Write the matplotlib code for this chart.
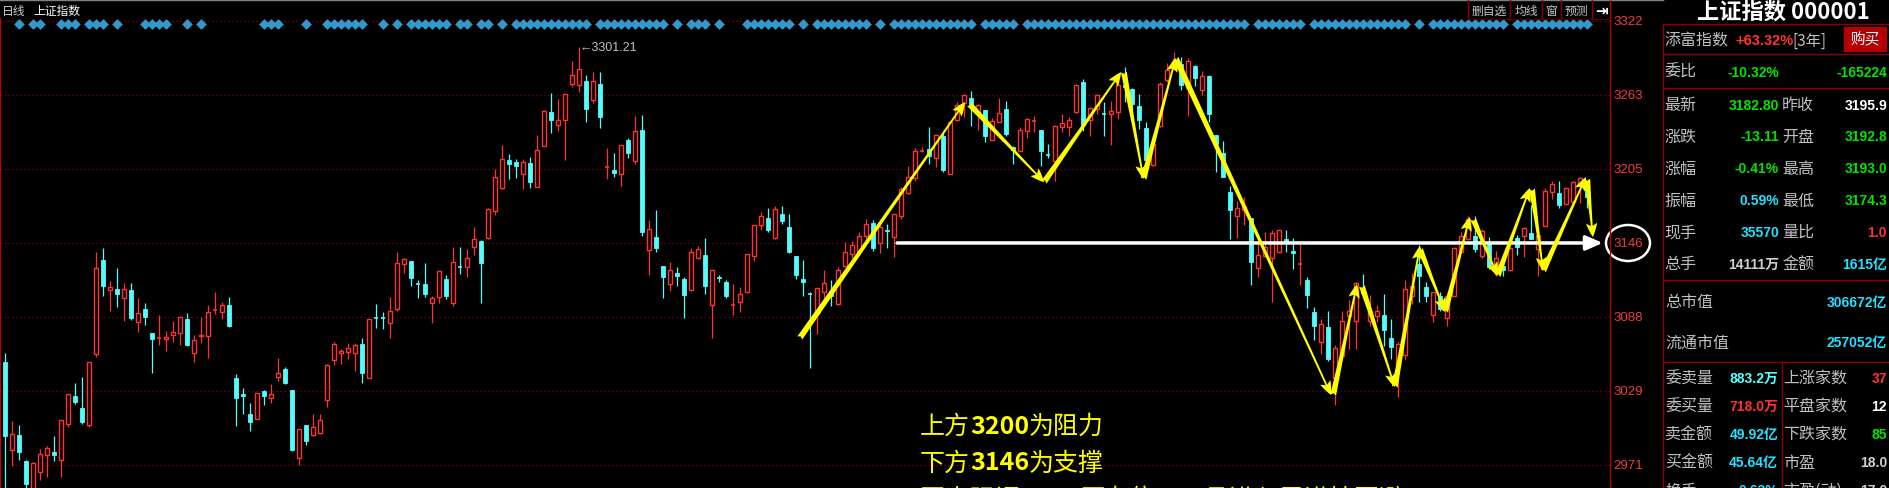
import matplotlib
matplotlib.use('Agg')
import matplotlib.pyplot as plt
from matplotlib.patches import Rectangle, Ellipse, FancyArrowPatch
from matplotlib.lines import Line2D
import numpy as np

plt.rcParams['font.family'] = ['Noto Sans CJK SC', 'DejaVu Sans']

# ---------------- data ----------------
opens = [3052, 2982.6, 2994.2, 2973.6, 2948, 2965.2, 2978.6, 2980.7, 2974.7, 3003.1,
         3025, 3015.5, 3002.4, 3058.2, 3132.5, 3109.1, 3109.6, 3102.7, 3108.8, 3083.8,
         3093.8, 3074.8, 3071.2, 3070.3, 3073.5, 3074.8, 3085.9, 3059.3, 3072.7, 3072.7,
         3093.2, 3091.7, 3097, 3039.2, 3026.6, 3010.8, 3007.4, 3028.9, 3023.7, 3040.3,
         3046.3, 3029.7, 2976.5, 3002.1, 2994.4, 2996, 3022.1, 3053.7, 3059.3, 3059.8,
         3059.3, 3066.1, 3039.5, 3087.4, 3086.9, 3083.2, 3094, 3129.6, 3131.7, 3114.3,
         3113.5, 3098.8, 3103.5, 3117.5, 3098.8, 3127.5, 3127.5, 3143.3, 3147.5, 3150.2,
         3171.5, 3189.7, 3211.6, 3210, 3200.7, 3209.2, 3190.5, 3222.9, 3249.5, 3239.5,
         3243.4, 3271.9, 3271.1, 3274, 3259.3, 3271.6, 3205.8, 3203.7, 3201, 3227.4,
         3211.3, 3235.6, 3141, 3150.7, 3128, 3113.8, 3122.5, 3117.8, 3109.3, 3134.6,
         3136.7, 3097.5, 3119.6, 3115.1, 3097.2, 3099.9, 3107.7, 3136.2, 3160.5, 3165.7,
         3150.2, 3169.1, 3158.6, 3135.9, 3117.8, 3106.4, 3090.1, 3107.2, 3106.4, 3098,
         3127.8, 3137.3, 3140.2, 3151.5, 3162, 3146.2, 3156.5, 3150.7, 3167.8, 3185.7,
         3197.6, 3218.7, 3220.5, 3213.2, 3230.5, 3201, 3243.7, 3256.9, 3260.9, 3249.5,
         3251.6, 3227.9, 3242.1, 3252.2, 3222, 3219.2, 3235, 3242.1, 3235.6, 3216,
         3211.3, 3237.7, 3237.7, 3249.5, 3273.8, 3243.7, 3252.2, 3248, 3247.9, 3249.5,
         3271.1, 3268, 3254.3, 3237.4, 3208.2, 3238.5, 3275.1, 3284, 3287.7, 3268.5,
         3285.9, 3267.4, 3278, 3231.6, 3217.4, 3186.3, 3167.8, 3172.6, 3165.7, 3126.2,
         3135.7, 3134.1, 3138.9, 3149.4, 3139.9, 3129.4, 3117, 3091.4, 3067.7, 3079.6,
         3039.3, 3056.7, 3088.3, 3084.8, 3109.9, 3084.8, 3088.8, 3089.3, 3071.1, 3050.1,
         3058, 3104.1, 3130, 3111.2, 3089.3, 3104.6, 3086.7, 3104.1, 3138.9, 3149.4,
         3151.5, 3136.2, 3147.3, 3128.3, 3128.3, 3125.2, 3149.9, 3151.5, 3153.9, 3141.5,
         3159.4, 3186.3, 3185.7, 3177.1, 3178.9, 3192.9, 3192.8]

highs = [3059, 3005.2, 3002.1, 2974.4, 2973, 2983.1, 2985.7, 2993.4, 3006, 3027.1,
         3035.3, 3040, 3052.4, 3138.8, 3142, 3115.9, 3126.7, 3114.9, 3114.3, 3102.5,
         3098.5, 3074.8, 3089, 3076.4, 3084.3, 3088.5, 3090.6, 3073.8, 3087.7, 3096.9,
         3107.2, 3099.6, 3103.3, 3042.4, 3031.3, 3019.5, 3027.9, 3029.7, 3034.5, 3055.6,
         3048.5, 3029.7, 2999.4, 3002.1, 3010.8, 3010.8, 3050.3, 3067.7, 3062.4, 3066.9,
         3066.9, 3070.9, 3085.9, 3097.7, 3091.7, 3103.3, 3138.8, 3134.4, 3131.7, 3117,
         3130.1, 3104, 3124.4, 3120.6, 3142.8, 3142.8, 3141.2, 3158.6, 3148.3, 3173.6,
         3204.4, 3223.4, 3216.3, 3212.6, 3212.6, 3213.9, 3231.3, 3251.1, 3264.5, 3259.8,
         3263.7, 3290.1, 3301.21, 3278.8, 3281.1, 3281.1, 3221, 3217.1, 3223.9, 3229.5,
         3246.3, 3247.4, 3164.4, 3172.3, 3128.3, 3131.5, 3127, 3119.6, 3142, 3143.6,
         3149.9, 3124.9, 3120.9, 3117, 3113.8, 3111.2, 3137.5, 3160.5, 3170.5, 3173.6,
         3175.7, 3175.7, 3169.1, 3135.9, 3133, 3107.2, 3110.4, 3125.2, 3117.2, 3127,
         3147.3, 3148.1, 3154.7, 3165, 3164.1, 3163.9, 3161.2, 3168.9, 3190.2, 3207.4,
         3221.1, 3221.8, 3238.2, 3232.4, 3233.7, 3242.9, 3257.4, 3264, 3266.6, 3256.1,
         3251.6, 3245.3, 3261.1, 3258.5, 3223, 3237.7, 3245.3, 3246.9, 3235.6, 3224.5,
         3239.5, 3248.2, 3246.1, 3271.9, 3275.9, 3253.5, 3264, 3257.4, 3258.7, 3278.5,
         3285.1, 3268.5, 3264, 3241.6, 3225.8, 3273.2, 3288.5, 3297, 3293, 3292.2,
         3287, 3282.5, 3279, 3231.6, 3227.1, 3191.6, 3179.7, 3182.3, 3165.7, 3146.2,
         3154.7, 3156.5, 3156.2, 3156.5, 3149.9, 3145.4, 3119.1, 3095.9, 3086.2, 3092.2,
         3065.6, 3092.7, 3101.2, 3115.1, 3121.7, 3105.1, 3097.2, 3105.9, 3086.2, 3067.7,
         3117.3, 3122.5, 3144.6, 3115.1, 3107.2, 3107.8, 3104.6, 3142.8, 3154.7, 3167.8,
         3167.3, 3157.3, 3150.7, 3140.2, 3131.5, 3142, 3152.5, 3158.6, 3176, 3159.9,
         3189.4, 3195, 3195.5, 3190.2, 3195, 3198.1, 3193.0]

lows = [2945, 2969.9, 2974.7, 2948, 2945, 2958.9, 2961.5, 2973.9, 2961.2, 3000.7,
        3019, 3003.1, 3000.7, 3056.1, 3104, 3092.2, 3095.4, 3084.6, 3085.1, 3075.6,
        3081.4, 3043.4, 3065.3, 3060.6, 3067.9, 3065.3, 3064.5, 3052.1, 3066.9, 3055.3,
        3090.4, 3085.9, 3079.8, 3001.5, 3011, 2997.6, 3007.4, 3018.2, 3020, 3037.1,
        3034.5, 2981.8, 2971, 2986.3, 2993.4, 2995, 3016.3, 3049.5, 3050.3, 3054.2,
        3045, 3035.5, 3039.5, 3079, 3078.2, 3070.9, 3092.5, 3122.8, 3112.2, 3102.5,
        3103.5, 3083, 3098.5, 3101.9, 3096.4, 3121.4, 3119.6, 3137, 3098.8, 3149.6,
        3168.3, 3189.2, 3196.5, 3197.3, 3188.6, 3189.7, 3190.5, 3222.9, 3233.2, 3234.8,
        3211.6, 3269.5, 3265.6, 3241.9, 3257.1, 3236.9, 3197, 3198.4, 3191.3, 3213.4,
        3208.7, 3152, 3121.2, 3138.9, 3103, 3108.5, 3112.5, 3087.2, 3108.5, 3133.6,
        3105.9, 3070.9, 3115.1, 3102.5, 3089.6, 3091.4, 3107.7, 3132.3, 3156.8, 3154.7,
        3149.4, 3161.2, 3138.3, 3117.8, 3104.6, 3047.2, 3074.5, 3098, 3096.2, 3097.2,
        3127, 3134.4, 3137.5, 3149.4, 3140.2, 3138.1, 3142.5, 3134.9, 3165.2, 3185,
        3195.5, 3217.9, 3208.7, 3206, 3202.1, 3201, 3242.9, 3245.6, 3239, 3235.8,
        3226.3, 3227.9, 3241.6, 3231.1, 3208.7, 3219.2, 3229, 3233.7, 3207.4, 3213.2,
        3195.5, 3233.7, 3230.5, 3249, 3235, 3230.5, 3248.2, 3231.1, 3223.7, 3244.2,
        3257.4, 3244.2, 3236.4, 3198.1, 3207.4, 3237.7, 3273.2, 3283, 3267.4, 3246.9,
        3270, 3263.2, 3241.6, 3202.1, 3198.7, 3149.4, 3150.2, 3160.5, 3113, 3119.1,
        3134.9, 3099.9, 3138.9, 3138.9, 3125.7, 3113, 3094.6, 3069.8, 3058.5, 3053.2,
        3018.2, 3055.9, 3062.4, 3062.4, 3105.9, 3080.4, 3083.5, 3065.1, 3054.5, 3024.2,
        3054.5, 3098, 3099.9, 3099.9, 3084, 3092.7, 3080.9, 3104.1, 3138.9, 3149.4,
        3138.9, 3134.1, 3125.7, 3120.4, 3120.4, 3124.4, 3136.7, 3134.9, 3149.4, 3120.4,
        3159.4, 3181, 3173.6, 3176.3, 3178.4, 3177.8, 3174.3]

closes = [2994, 2995.5, 2981, 2955.4, 2972.6, 2979.7, 2983.9, 2978.4, 3006, 3027.1,
          3020.5, 3004.7, 3052.4, 3126.7, 3112, 3111.2, 3105.6, 3109.6, 3086.7, 3091.1,
          3087.7, 3070.3, 3071.7, 3071.6, 3076.1, 3087.7, 3065.3, 3069.3, 3073.8, 3091.9,
          3093.8, 3097.5, 3080.3, 3023.7, 3025.3, 3004.7, 3027.4, 3025.3, 3027.1, 3043.7,
          3035.3, 2982.3, 2999.4, 2989.7, 3000.5, 3006, 3049.5, 3066.7, 3060.6, 3063.2,
          3065.6, 3043.2, 3085.9, 3086.9, 3086.4, 3092.7, 3130.1, 3133.3, 3118.3, 3113.5,
          3105.6, 3102.5, 3123.8, 3104, 3130.9, 3127.2, 3134.6, 3149.6, 3130.4, 3172.8,
          3198.1, 3212.4, 3208.4, 3206.8, 3210, 3194.2, 3219.5, 3250.3, 3243.4, 3243.2,
          3263.7, 3278.8, 3284, 3251.9, 3274.5, 3245.8, 3206.4, 3201.3, 3223.9, 3217.1,
          3234.5, 3155.2, 3157.3, 3142.3, 3119.6, 3124.9, 3120.4, 3105.1, 3138.9, 3141.5,
          3112.5, 3124.9, 3118.6, 3104.6, 3098, 3105.7, 3137.5, 3160.5, 3167.3, 3156.5,
          3173.1, 3163.9, 3139.4, 3121.2, 3115.1, 3106.0, 3110.4, 3114.3, 3104.1, 3125.2,
          3138.9, 3144.9, 3151.5, 3161.2, 3142.5, 3158.6, 3155.5, 3168.9, 3188.9, 3198.7,
          3218.9, 3219.5, 3214.7, 3231.6, 3204, 3242.1, 3255.3, 3263.2, 3254, 3255.3,
          3231.1, 3242.9, 3248.7, 3232.4, 3220, 3235.6, 3244.2, 3242.9, 3219.2, 3215.6,
          3238.5, 3240.8, 3243.4, 3271.1, 3239.5, 3252.7, 3263.2, 3247.9, 3250.6, 3271.1,
          3269.3, 3256.1, 3243.7, 3212.1, 3224.5, 3271.9, 3283, 3290, 3271.4, 3290.4,
          3276.4, 3278, 3248.5, 3224.8, 3198.7, 3172.6, 3173.6, 3175.2, 3131.5, 3136.7,
          3142.8, 3153.9, 3156.2, 3146.2, 3138.1, 3129.6, 3105.4, 3080.9, 3082.2, 3054.5,
          3063, 3084.8, 3092.2, 3114.4, 3106.7, 3092.7, 3092.2, 3077.7, 3064.3, 3066.4,
          3109.9, 3112, 3119.9, 3104.6, 3107.2, 3094, 3104.6, 3142.5, 3152.1, 3165.2,
          3141.5, 3155.5, 3127, 3134.1, 3125.2, 3142, 3142.8, 3157.8, 3149.4, 3152.5,
          3187.1, 3192.9, 3176.3, 3189.4, 3194.2, 3197.3, 3182.8]

# day numbers (1-based) carrying a blue diamond marker, as runs (first, last)
marker_runs = [(3, 3), (5, 6), (9, 11), (13, 15), (17, 17), (21, 24), (27, 27), (29, 29),
               (38, 40), (44, 44), (47, 52), (55, 55), (57, 57), (59, 64), (66, 67),
               (69, 70), (72, 72), (74, 84), (86, 95), (97, 97), (99, 101), (103, 103),
               (107, 113), (115, 115), (117, 124), (126, 126), (128, 139), (141, 145),
               (147, 178), (180, 186), (188, 201), (203, 203), (205, 215), (217, 227)]

# price scale
tick_values = [3322, 3263.5, 3205, 3146.5, 3088, 3029.5, 2971]
tick_labels = ['3322', '3263', '3205', '3146', '3088', '3029', '2971']
support_level = 3146.3
support_start = 127.4

# hand-drawn yellow arrows: (x index, price) from -> to
arrow_x0 = [113.5, 137.7, 148.4, 159.8, 162.6, 167.2, 189.7, 193.8, 198.5, 202.1, 205.7, 209.7, 213.2, 218.1, 219.7, 226.0]
arrow_y0 = [3071.2, 3256.1, 3194.5, 3281.4, 3196.9, 3292.5, 3026.1, 3112.3, 3032.4, 3141.5, 3091.7, 3165.2, 3120.2, 3189.0, 3124.1, 3196.9]
arrow_x1 = [137.1, 148.4, 159.4, 162.6, 167.2, 189.4, 193.1, 198.5, 202.1, 205.7, 209.2, 213.2, 217.8, 219.7, 225.8, 226.8]
arrow_y1 = [3257.7, 3194.3, 3281.4, 3196.9, 3292.5, 3026.1, 3113.8, 3032.4, 3143.9, 3091.7, 3166.8, 3120.2, 3189.8, 3124.1, 3198.4, 3151.0]

n = min(len(opens), len(highs), len(lows), len(closes))

RED = '#ff3232'
CYAN = '#54fcfc'
GRID = '#8b0000'
GRAY = '#c0c0c0'
GREEN = '#00e400'
TCYAN = '#22e0ff'
YEL = '#ffff00'

W, H = 1889, 489
fig = plt.figure(figsize=(W / 100, H / 100), dpi=100, facecolor='black')


def fxy(px, py):
    return px / W, 1 - py / H


def fline(x0, y0, x1, y1, color, lw=1.0, ls='-'):
    a, b = fxy(x0, y0)
    c, d = fxy(x1, y1)
    fig.add_artist(Line2D([a, c], [b, d], color=color, lw=lw, ls=ls, transform=fig.transFigure))


def ftext(px, py, s, color=GRAY, size=11.5, ha='left', weight='normal', family=None):
    kw = {}
    if family is not None:
        kw['family'] = family
    a, b = fxy(px, py)
    return fig.text(a, b, s, color=color, fontsize=size, ha=ha, va='center', fontweight=weight, **kw)


# main chart axes: x from 0 to 1610 px, y from 20 to 489 px
ax = fig.add_axes([0, 0, 1610 / W, (H - 20) / H])
ax.set_facecolor('black')
ax.set_xlim(-5.3 / 7.0, (1610 - 5.3) / 7.0)
ax.set_ylim(3322 - (489 - 21.7) / 1.265, 3322 + 1.7 / 1.265)
ax.set_xticks([])
ax.set_yticks([])
for s in ['top', 'bottom', 'right']:
    ax.spines[s].set_visible(False)
ax.spines['left'].set_color('#c00000')
ax.spines['left'].set_linewidth(1.5)

for t in tick_values:
    ax.axhline(t, color=GRID, lw=0.8, ls=(0, (1.2, 2.4)), zorder=1)

x = np.arange(n)
o = np.array(opens[:n]); h = np.array(highs[:n]); l = np.array(lows[:n]); c = np.array(closes[:n])
up = c >= o
cols = np.where(up, RED, CYAN)
ax.vlines(x, l, h, colors=cols, lw=0.9, zorder=2)
bw = 0.6
for i in range(n):
    bot = min(o[i], c[i])
    ht = abs(c[i] - o[i])
    if ht < 1.0:
        ax.hlines((o[i] + c[i]) / 2, i - bw / 2, i + bw / 2, colors=cols[i], lw=1.2, zorder=3)
    elif up[i]:
        ax.add_patch(Rectangle((i - bw / 2, bot), bw, ht, facecolor='black', edgecolor=RED, lw=1.0, zorder=3))
    else:
        ax.add_patch(Rectangle((i - bw / 2, bot), bw, ht, facecolor=CYAN, edgecolor=CYAN, lw=0.6, zorder=3))

# diamond markers row
mk = []
for a, b in marker_runs:
    mk.extend(range(a - 1, b))
mk = [m for m in mk if m < n]
ax.scatter(mk, [0.9893] * len(mk), marker='D', s=30, color='#3399cc', transform=ax.get_xaxis_transform(),
           zorder=4, linewidths=0, clip_on=False)

# max high label
imax = int(np.argmax(h))
ax.text(imax + 0.1, h[imax], '\u2190' + f'{h[imax]:.2f}', color=GRAY, fontsize=9, va='center', ha='left',
        family=['Liberation Sans', 'DejaVu Sans'], zorder=6)

# support line (white arrow)
ax.add_patch(FancyArrowPatch((support_start, support_level), (n + 1.2, support_level),
                             arrowstyle='-|>,head_length=0.5,head_width=0.22', mutation_scale=20,
                             color='white', lw=2.5, shrinkA=0, shrinkB=0, zorder=5))

# yellow arrows
for xa, ya, xb, yb in zip(arrow_x0, arrow_y0, arrow_x1, arrow_y1):
    ax.add_patch(FancyArrowPatch((xa, ya), (xb, yb),
                                 arrowstyle='fancy,head_length=1.0,head_width=0.8,tail_width=0.42',
                                 mutation_scale=10, color=YEL, lw=0, shrinkA=0, shrinkB=0, zorder=6))

# right price labels
for t, lab in zip(tick_values, tick_labels):
    py = 21.7 + (3322 - t) * 1.265
    ftext(1613, py, lab, color='#f03c3c', size=9.5, family=['Liberation Sans', 'DejaVu Sans'])

# circle around support label
fig.add_artist(Ellipse(fxy(1628, 244), 44 / W, 36 / H, transform=fig.transFigure, fill=False,
                       ec='white', lw=1.8))

# frame lines
fline(0, 0.5, 1663, 0.5, '#808080', lw=1.0)
fline(1610, 0, 1610, 489, '#b00000', lw=1.0)
fline(1663, 25, 1663, 489, '#8b0000', lw=1.0)
for yy in [25, 55, 89.3, 280.7, 363.3]:
    fline(1663, yy, 1889, yy, '#8b0000', lw=1.0)
fline(1782, 363.3, 1782, 489, '#8b0000', lw=1.0)

# header
ftext(2, 11, '日线', color='#d0d0d0', size=8.5)
ftext(33, 11, '上证指数', color='white', size=8.5)
for bx in [1468.3, 1510, 1541.7, 1560.7, 1591.7]:
    fline(bx, 0, bx, 19.5, '#8b0000', lw=1.0)
fline(1468.3, 19.5, 1610, 19.5, '#5a0000', lw=0.8)
for cx, s in [(1489, '删自选'), (1526, '均线'), (1551, '窗'), (1576, '预测')]:
    ftext(cx, 11.5, s, color='#c8c8c8', size=8.5, ha='center')
ftext(1601, 11, '\u21e5', color='white', size=11, ha='center', weight='bold', family=['DejaVu Sans'])

# right info panel
VF = ['Liberation Sans', 'Noto Sans CJK SC']
ftext(1697, 12, '上证指数 000001', color='white', size=16, weight='bold')
ftext(1664, 41, '添富指数', size=11.5)
ftext(1735, 41, '+63.32%', color=RED, size=10.5, weight='bold', family=VF)
ftext(1792, 41, '[3年]', size=11)
fig.add_artist(Rectangle(fxy(1844, 53), 43 / W, 25 / H, transform=fig.transFigure, facecolor='#b40000',
                         edgecolor='none'))
ftext(1865.5, 40.5, '购买', color='white', size=10.5, ha='center')
ftext(1664, 72.7, '委比', size=11.5)
ftext(1728, 72.7, '-10.32%', color=GREEN, size=10, weight='bold', family=VF)
ftext(1887, 72.7, '-165224', color=GREEN, size=10, weight='bold', family=VF, ha='right')

rows_y = [106, 137, 169.3, 201, 232.7, 265]
lab1 = ['最新', '涨跌', '涨幅', '振幅', '现手', '总手']
val1 = ['3182.80', '-13.11', '-0.41%', '0.59%', '35570', '14111万']
col1 = [GREEN, GREEN, GREEN, TCYAN, TCYAN, '#d0d0d0']
lab2 = ['昨收', '开盘', '最高', '最低', '量比', '金额']
val2 = ['3195.9', '3192.8', '3193.0', '3174.3', '1.0', '1615亿']
col2 = ['white', GREEN, GREEN, GREEN, RED, TCYAN]
for yy, a, v, cc, b, v2, c2 in zip(rows_y, lab1, val1, col1, lab2, val2, col2):
    ftext(1664, yy, a, size=11.5)
    ftext(1779, yy, v, color=cc, size=10, weight='bold', family=VF, ha='right')
    ftext(1782, yy, b, size=11.5)
    ftext(1887, yy, v2, color=c2, size=10, weight='bold', family=VF, ha='right')

ftext(1665, 302.7, '总市值', size=11.5)
ftext(1887, 302.7, '306672亿', color=TCYAN, size=10, weight='bold', family=VF, ha='right')
ftext(1665, 343.3, '流通市值', size=11.5)
ftext(1887, 343.3, '257052亿', color=TCYAN, size=10, weight='bold', family=VF, ha='right')

rows2_y = [379.3, 407.3, 435, 463.3, 491]
lab3 = ['委卖量', '委买量', '卖金额', '买金额', '换手']
val3 = ['883.2万', '718.0万', '49.92亿', '45.64亿', '0.63%']
col3 = ['#55ffff', RED, TCYAN, TCYAN, TCYAN]
lab4 = ['上涨家数', '平盘家数', '下跌家数', '市盈', '市盈(动)']
val4 = ['37', '12', '85', '18.0', '17.0']
col4 = [RED, 'white', GREEN, '#d0d0d0', '#d0d0d0']
for yy, a, v, cc, b, v2, c2 in zip(rows2_y, lab3, val3, col3, lab4, val4, col4):
    ftext(1665, yy, a, size=11.5)
    ftext(1778, yy, v, color=cc, size=10, weight='bold', family=VF, ha='right')
    ftext(1783, yy, b, size=11.5)
    ftext(1887, yy, v2, color=c2, size=10, weight='bold', family=VF, ha='right')

# bottom commentary
renderer = fig.canvas.get_renderer()


def run_text(px, py, parts):
    xx = px
    for s, bold in parts:
        t = ftext(xx, py, s, color=YEL, size=18, weight='bold' if bold else 'normal')
        bb = t.get_window_extent(renderer)
        xx += bb.width


run_text(920, 426.7, [('上方', False), ('3200', True), ('为阻力', False)])
run_text(920, 463.5, [('下方', False), ('3146', True), ('为支撑', False)])
run_text(920, 500, [('再次强调', False), ('3200', True), ('压力位，一旦进入需谨慎回避', False)])

fig.savefig('out.png', dpi=100, facecolor='black')
